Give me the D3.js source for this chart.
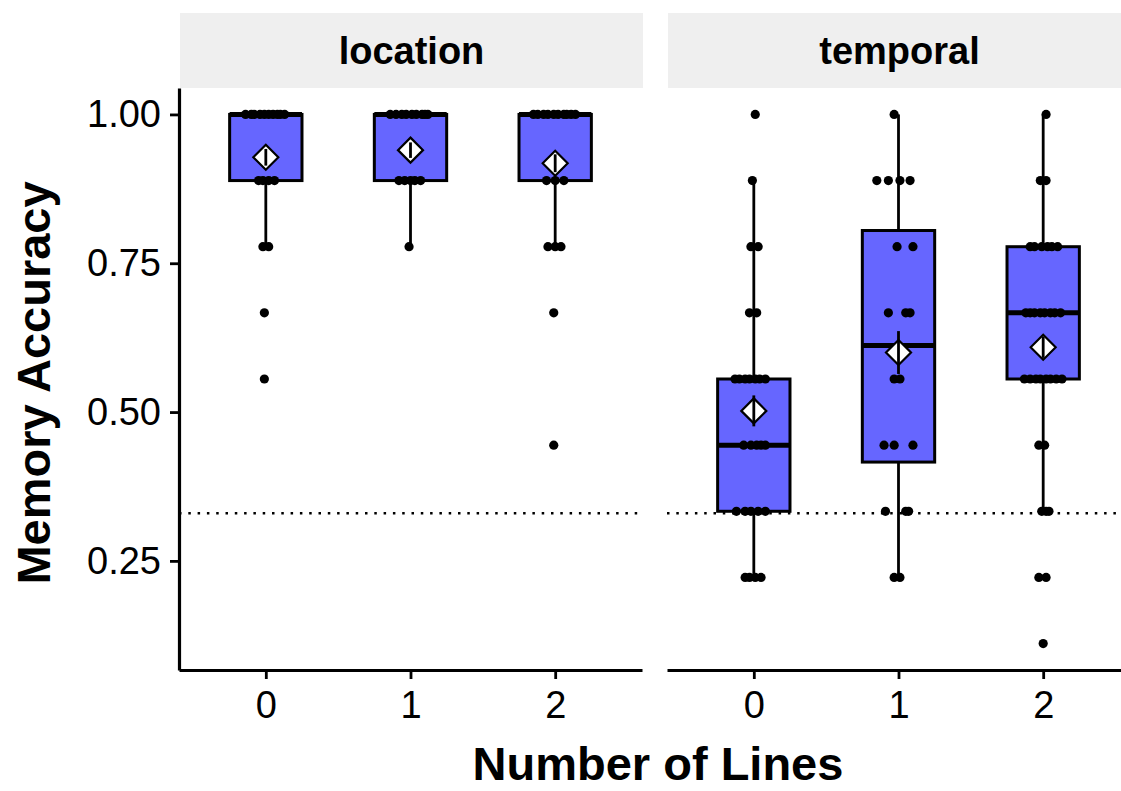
<!DOCTYPE html>
<meta charset="utf-8">
<script src="https://d3js.org/d3.v7.min.js"></script>
<style>
  body { margin: 0; background: #fff; }
  text { font-family: "Liberation Sans", Arial, Helvetica, sans-serif; }
</style>
<div id="chart"></div>
<script>
// facets and categories
const facets = ["location", "temporal"];
const lineCounts = ["0", "1", "2"];
const yTicks = [0.25, 0.50, 0.75, 1.00];
const chance = 0.33;

// box statistics per facet, one entry per number of lines
const q1 = { location: [8/9, 8/9, 8/9], temporal: [3/9, 0.416, 5/9] };
const med = { location: [1, 1, 1], temporal: [4/9, 0.612, 6/9] };
const q3 = { location: [1, 1, 1], temporal: [5/9, 0.805, 7/9] };
const whiskLo = { location: [7/9, 7/9, 7/9], temporal: [2/9, 2/9, 3/9] };
const whiskHi = { location: [1, 1, 1], temporal: [8/9, 1, 1] };
const means = { location: [0.928, 0.940, 0.918], temporal: [0.502, 0.600, 0.609] };
const se = { location: [0.014, 0.013, 0.015], temporal: [0.026, 0.036, 0.018] };

// individual scores: [correct out of 9, horizontal jitter in category units]
const locPts0 = [[9,-0.14],[9,-0.10],[9,-0.08],[9,-0.04],[9,-0.01],[9,0.02],[9,0.05],[9,0.08],[9,0.10],[9,0.13],
  [8,-0.05],[8,-0.02],[8,0.02],[8,0.06],[7,-0.02],[7,0.02],[6,-0.01],[5,-0.01]];
const locPts1 = [[9,-0.14],[9,-0.10],[9,-0.06],[9,-0.03],[9,0.01],[9,0.04],[9,0.08],[9,0.10],[9,0.12],
  [8,-0.08],[8,-0.04],[8,0.0],[8,0.03],[8,0.07],[7,-0.01]];
const locPts2 = [[9,-0.15],[9,-0.12],[9,-0.08],[9,-0.05],[9,-0.01],[9,0.02],[9,0.06],[9,0.08],[9,0.11],[9,0.14],
  [8,-0.06],[8,0.0],[8,0.06],[7,-0.05],[7,0.0],[7,0.04],[6,-0.01],[4,-0.01]];
const temPts0 = [[9,0.01],[8,-0.01],[7,-0.02],[7,0.03],[6,-0.03],[6,0.02],
  [5,-0.13],[5,-0.10],[5,-0.06],[5,-0.03],[5,0.01],[5,0.04],[5,0.08],
  [4,-0.07],[4,-0.02],[4,0.02],[4,0.05],[4,0.08],
  [3,-0.12],[3,-0.06],[3,-0.02],[3,0.03],[3,0.08],
  [2,-0.06],[2,-0.03],[2,0.01],[2,0.05]];
const temPts1 = [[9,-0.03],[8,-0.15],[8,-0.07],[8,0.01],[8,0.08],[7,-0.01],[7,0.10],
  [6,-0.07],[6,0.05],[6,0.08],[5,-0.03],[5,0.01],[4,-0.10],[4,-0.03],[4,0.10],
  [3,-0.09],[3,0.05],[3,0.07],[2,-0.03],[2,0.01]];
const temPts2 = [[9,0.02],[8,-0.02],[8,0.02],
  [7,-0.09],[7,-0.06],[7,-0.01],[7,0.03],[7,0.06],[7,0.10],
  [6,-0.12],[6,-0.09],[6,-0.06],[6,-0.02],[6,0.01],[6,0.05],[6,0.08],[6,0.12],
  [5,-0.13],[5,-0.09],[5,-0.05],[5,-0.02],[5,0.02],[5,0.05],[5,0.09],[5,0.13],
  [4,-0.03],[4,0.01],[3,-0.01],[3,0.02],[3,0.04],[2,-0.03],[2,0.02],[1,0.0]];
const points = { location: [locPts0, locPts1, locPts2], temporal: [temPts0, temPts1, temPts2] };

// layout
const W = 1121, H = 791;
const panelTop = 88, panelBottom = 670, stripTop = 13;
const panelLeft = [179, 667], panelW = 463;
const boxFill = "#6666ff";
const font = '"Liberation Sans", Arial, Helvetica, sans-serif';

const svg = d3.select("#chart").append("svg")
  .attr("width", W).attr("height", H);

const y = d3.scaleLinear()
  .domain([0.0667, 1.0444])
  .range([panelBottom, panelTop]);

facets.forEach(function(f, fi) {
  const x = d3.scaleLinear()
    .domain([-0.6, 2.6])
    .range([panelLeft[fi], panelLeft[fi] + panelW]);
  const bw = x(0.25) - x(0);
  const g = svg.append("g");

  // strip
  g.append("rect")
    .attr("x", panelLeft[fi] + 1).attr("y", stripTop)
    .attr("width", panelW).attr("height", panelTop - stripTop)
    .attr("fill", "#efefef");
  g.append("text")
    .attr("x", panelLeft[fi] + 1 + panelW / 2).attr("y", (stripTop + panelTop) / 2)
    .attr("text-anchor", "middle").attr("dominant-baseline", "central")
    .style("font-size", "38px").style("font-weight", "bold")
    .text(f);

  // chance line
  g.append("line")
    .attr("x1", x(-0.6)).attr("x2", x(2.6))
    .attr("y1", y(chance)).attr("y2", y(chance))
    .attr("stroke", "#000").attr("stroke-width", 2.5)
    .attr("stroke-dasharray", "2.5,6.8");

  const idx = [0, 1, 2];

  // whiskers
  g.selectAll(".wlo").data(idx).join("line")
    .attr("x1", i => x(i)).attr("x2", i => x(i))
    .attr("y1", i => y(whiskLo[f][i])).attr("y2", i => y(q1[f][i]))
    .attr("stroke", "#000").attr("stroke-width", 2.8);
  g.selectAll(".whi").data(idx).join("line")
    .attr("x1", i => x(i)).attr("x2", i => x(i))
    .attr("y1", i => y(q3[f][i])).attr("y2", i => y(whiskHi[f][i]))
    .attr("stroke", "#000").attr("stroke-width", 2.8);

  // boxes
  g.selectAll(".box").data(idx).join("rect")
    .attr("x", i => x(i) - bw).attr("width", 2 * bw)
    .attr("y", i => y(q3[f][i])).attr("height", i => y(q1[f][i]) - y(q3[f][i]))
    .attr("fill", boxFill).attr("stroke", "#000").attr("stroke-width", 3);

  // medians
  g.selectAll(".med").data(idx).join("line")
    .attr("x1", i => x(i) - bw).attr("x2", i => x(i) + bw)
    .attr("y1", i => y(med[f][i])).attr("y2", i => y(med[f][i]))
    .attr("stroke", "#000").attr("stroke-width", 5);

  // points
  idx.forEach(function(i) {
    g.selectAll(null).data(points[f][i]).join("circle")
      .attr("cx", d => x(i + d[1]))
      .attr("cy", d => y(d[0] / 9))
      .attr("r", 4.6)
      .attr("fill", "#000");
  });

  // mean diamonds
  const r = 12.5;
  g.selectAll(".mean").data(idx).join("path")
    .attr("d", i => {
      const cx = x(i), cy = y(means[f][i]);
      return `M${cx},${cy - r}L${cx + r},${cy}L${cx},${cy + r}L${cx - r},${cy}Z`;
    })
    .attr("fill", "#fff").attr("stroke", "#000").attr("stroke-width", 2.2);
  g.selectAll(".se").data(idx).join("line")
    .attr("x1", i => x(i)).attr("x2", i => x(i))
    .attr("y1", i => y(means[f][i] - se[f][i])).attr("y2", i => y(means[f][i] + se[f][i]))
    .attr("stroke", "#000").attr("stroke-width", 2.8);

  // x axis
  const xa = g.append("g")
    .attr("transform", `translate(0,${panelBottom})`)
    .call(d3.axisBottom(x).tickValues(idx).tickFormat(i => lineCounts[i])
      .tickSize(9).tickSizeOuter(0).tickPadding(12));
  xa.select(".domain").attr("stroke-width", 3.2);
  xa.selectAll(".tick line").attr("stroke-width", 2.8);
  xa.selectAll(".tick text").style("font-size", "38px").attr("fill", "#000")
    .style("font-family", font);

  // y axis only on first panel
  if (fi === 0) {
    const ya = g.append("g")
      .attr("transform", `translate(${panelLeft[0]},0)`)
      .call(d3.axisLeft(y).tickValues(yTicks).tickFormat(d3.format(".2f"))
        .tickSize(9).tickSizeOuter(0).tickPadding(9));
    ya.select(".domain").attr("stroke-width", 3.2);
    ya.selectAll(".tick line").attr("stroke-width", 2.8);
    ya.selectAll(".tick text").style("font-size", "38px").attr("fill", "#000")
      .style("font-family", font);
  }
});

// axis titles
svg.append("text")
  .attr("x", 658).attr("y", 780)
  .attr("text-anchor", "middle")
  .style("font-size", "47px").style("font-weight", "bold")
  .text("Number of Lines");
svg.append("text")
  .attr("transform", `translate(50,${(panelTop + panelBottom) / 2 + 4}) rotate(-90)`)
  .attr("text-anchor", "middle")
  .style("font-size", "47px").style("font-weight", "bold")
  .text("Memory Accuracy");
</script>
